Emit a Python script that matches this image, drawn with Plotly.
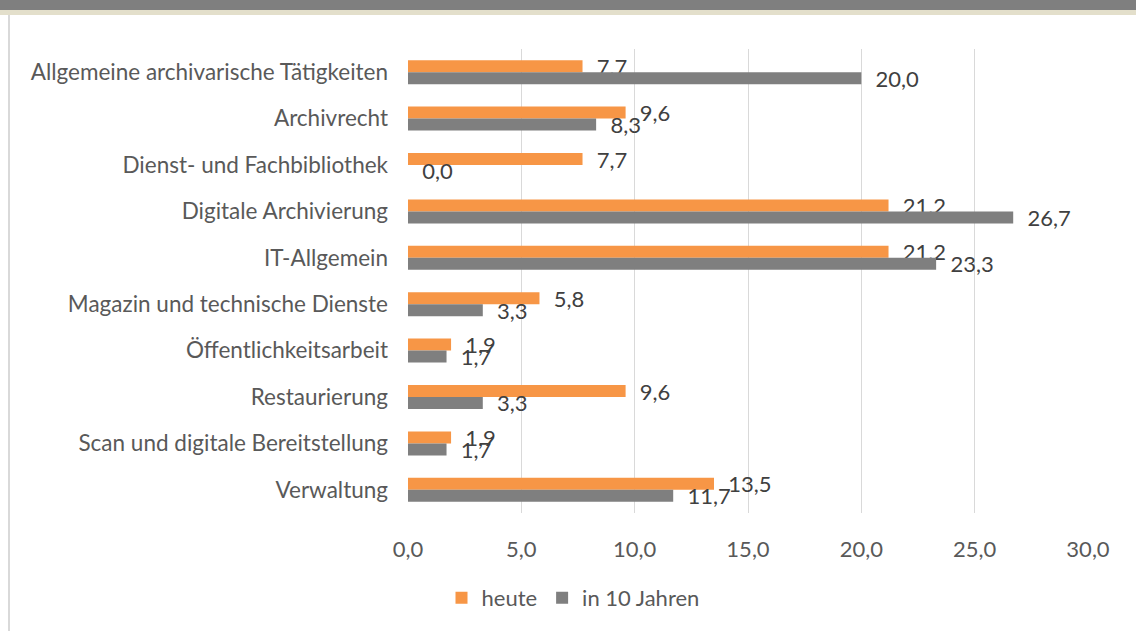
import plotly.graph_objects as go

W, H = 1136, 631

categories = [
    "Allgemeine archivarische Tätigkeiten",
    "Archivrecht",
    "Dienst- und Fachbibliothek",
    "Digitale Archivierung",
    "IT-Allgemein",
    "Magazin und technische Dienste",
    "Öffentlichkeitsarbeit",
    "Restaurierung",
    "Scan und digitale Bereitstellung",
    "Verwaltung",
]
heute = [7.7, 9.6, 7.7, 21.2, 21.2, 5.8, 1.9, 9.6, 1.9, 13.5]
in_10_jahren = [20.0, 8.3, 0.0, 26.7, 23.3, 3.3, 1.7, 3.3, 1.7, 11.7]
x_ticks = [0, 5, 10, 15, 20, 25, 30]

FONT = "Lato"
FS = 22.5
TXT = "#404040"
TICK = "#595959"
ORANGE = "#F79646"
GRAY = "#7F7F7F"
PAD = "\u00a0\u00a0"

def fmt(v):
    return PAD + f"{v:.1f}".replace(".", ",")

fig = go.Figure()
for name, vals, col in [("heute", heute, ORANGE), ("in 10 Jahren", in_10_jahren, GRAY)]:
    fig.add_trace(go.Bar(
        y=categories, x=vals, name=name, orientation="h",
        marker=dict(color=col, line=dict(width=0)),
        text=[fmt(v) for v in vals], textposition="outside",
        textfont=dict(family=FONT, size=22, color=TXT),
        constraintext="none", cliponaxis=False,
    ))

fig.update_layout(
    width=W, height=H, autosize=False,
    margin=dict(l=0, r=0, t=0, b=0, pad=0, autoexpand=False),
    paper_bgcolor="white", plot_bgcolor="white",
    barmode="group", bargap=0.483, bargroupgap=0,
    font=dict(family=FONT, size=FS, color=TICK),
    separators=",.",
    xaxis=dict(
        domain=[408 / W, 1088 / W], range=[0, 30],
        tickvals=x_ticks, tickformat=".1f",
        showgrid=True, gridcolor="#D9D9D9", gridwidth=1,
        zeroline=False, showline=False, ticks="",
        ticklabelstandoff=21, automargin=False,
        tickfont=dict(family=FONT, size=22, color=TICK),
    ),
    yaxis=dict(
        domain=[(H - 513) / H, (H - 49) / H],
        autorange="reversed", showgrid=False, zeroline=False,
        showline=False, ticks="", ticklabelstandoff=19, automargin=False,
        tickfont=dict(family=FONT, size=FS, color=TICK),
    ),
    legend=dict(
        orientation="h", x=573 / W, xanchor="center",
        y=(H - 598) / H, yanchor="middle",
        font=dict(family=FONT, size=22, color=TICK),
        traceorder="normal",
    ),
    shapes=[
        dict(type="rect", xref="paper", yref="paper", x0=0, x1=1,
             y0=(H - 10) / H, y1=1, fillcolor="#7F7F7F", line=dict(width=0), layer="below"),
        dict(type="rect", xref="paper", yref="paper", x0=0, x1=1,
             y0=(H - 15) / H, y1=(H - 10) / H, fillcolor="#E3DFCB", line=dict(width=0), layer="below"),
        dict(type="rect", xref="paper", yref="paper", x0=8 / W, x1=10 / W,
             y0=0, y1=(H - 15) / H, fillcolor="#D9D9D9", line=dict(width=0), layer="below"),
    ],
)

fig.write_html(
    "out.html",
    config={"displayModeBar": False, "responsive": False},
    post_script="document.body.style.margin='0';document.body.style.overflow='hidden';",
)
